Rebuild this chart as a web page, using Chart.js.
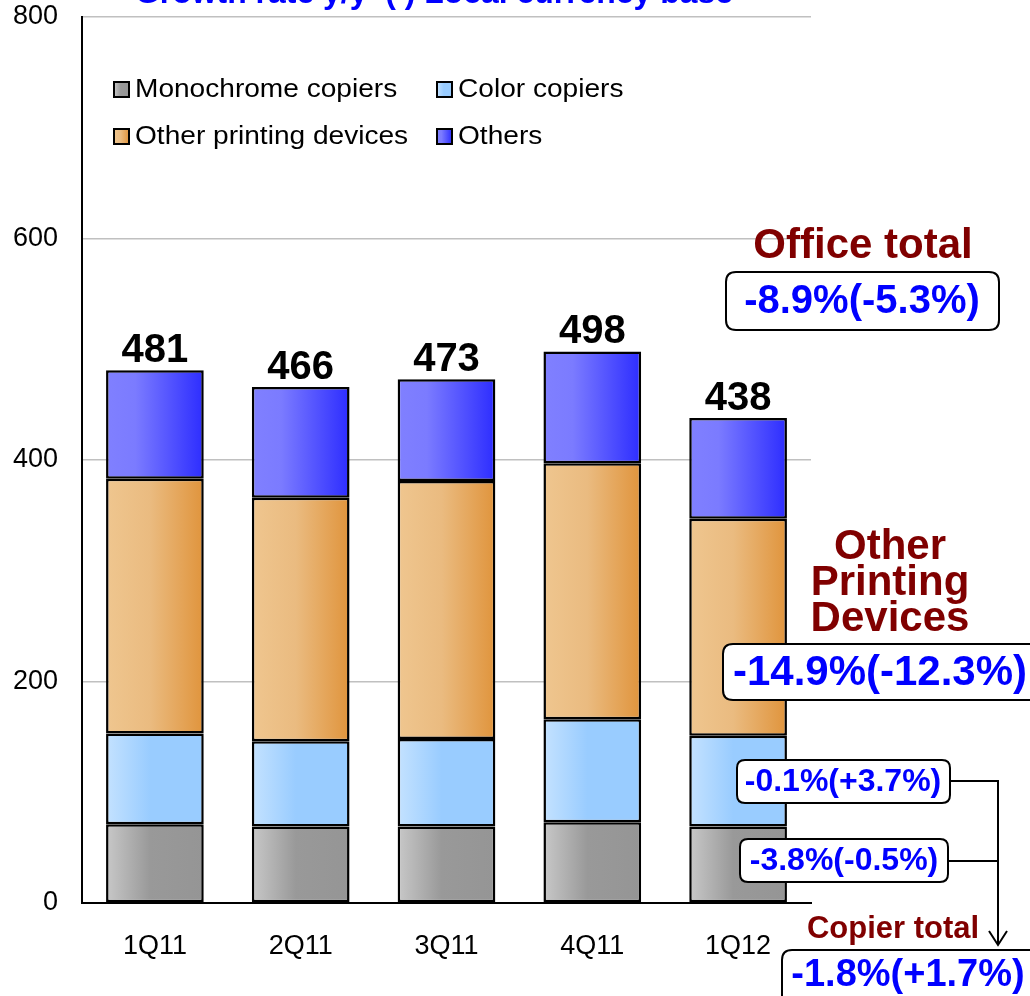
<!DOCTYPE html>
<html>
<head>
<meta charset="utf-8">
<script src="https://cdn.jsdelivr.net/npm/chart.js@4.4.1/dist/chart.umd.min.js"></script>
<style>
  body{margin:0;background:#fff;}
  #wrap{width:1030px;height:996px;}
</style>
</head>
<body>
<div id="wrap"><canvas id="myChart" width="1030" height="996"></canvas></div>
<script>
// quarters and stacked values (billion yen)
const categories = ['1Q11', '2Q11', '3Q11', '4Q11', '1Q12'];
const mono = [71, 69, 69, 73, 69];
const color = [82, 77, 79, 93, 82];
const otherPrinting = [230, 220, 233, 231, 196];
const others = [98, 100, 92, 101, 91];
const totals = [481, 466, 473, 498, 438];
const yTicks = [0, 200, 400, 600, 800];
const seriesNames = ['Monochrome copiers', 'Color copiers', 'Other printing devices', 'Others'];

// gradient stops, left -> right
const stops = [
  [[0, '#c8c8c8'], [0.45, '#999999'], [1, '#959595']],
  [[0, '#c4e2ff'], [0.45, '#99ccff'], [1, '#99ccff']],
  [[0, '#efc68f'], [0.45, '#eabb80'], [1, '#e0943c']],
  [[0, '#8080ff'], [0.3, '#7b7bff'], [1, '#2d2dff']]
];
const FONT = "'Liberation Sans', Arial, sans-serif";

function grad(ctx, x0, x1, s) {
  let g = ctx.createLinearGradient(x0, 0, x1, 0);
  s.forEach(st => g.addColorStop(st[0], st[1]));
  return g;
}

function rbox(ctx, x, y, w, h, r) {
  ctx.beginPath();
  ctx.moveTo(x + r, y);
  ctx.lineTo(x + w - r, y);
  ctx.quadraticCurveTo(x + w, y, x + w, y + r);
  ctx.lineTo(x + w, y + h - r);
  ctx.quadraticCurveTo(x + w, y + h, x + w - r, y + h);
  ctx.lineTo(x + r, y + h);
  ctx.quadraticCurveTo(x, y + h, x, y + h - r);
  ctx.lineTo(x, y + r);
  ctx.quadraticCurveTo(x, y, x + r, y);
  ctx.closePath();
  ctx.fillStyle = '#fff';
  ctx.fill();
  ctx.lineWidth = 2;
  ctx.strokeStyle = '#000';
  ctx.stroke();
}

function txt(ctx, s, x, y, size, col, maxW) {
  ctx.font = 'bold ' + size + 'px ' + FONT;
  ctx.fillStyle = col;
  ctx.textAlign = 'center';
  ctx.textBaseline = 'middle';
  if (maxW) ctx.fillText(s, x, y, maxW); else ctx.fillText(s, x, y);
}

const barGradients = {
  id: 'barGradients',
  beforeDatasetsDraw(chart) {
    const ctx = chart.ctx;
    chart.data.datasets.forEach((ds, di) => {
      chart.getDatasetMeta(di).data.forEach(el => {
        el.options.backgroundColor = grad(ctx, el.x - el.width / 2, el.x + el.width / 2, stops[di]);
      });
    });
  }
};

const extras = {
  id: 'extras',
  afterDraw(chart) {
    const ctx = chart.ctx;
    const xs = chart.scales.x, ys = chart.scales.y;
    ctx.save();

    // title (cut at the top)
    ctx.font = 'bold 32px ' + FONT;
    ctx.fillStyle = '#0000ff';
    ctx.textAlign = 'center';
    ctx.textBaseline = 'alphabetic';
    ctx.fillText('Growth rate y/y  ( ) Local currency base', 434, 3, 598);

    // totals above bars
    totals.forEach((t, i) => {
      ctx.font = 'bold 40px ' + FONT;
      ctx.fillStyle = '#000';
      ctx.textAlign = 'center';
      ctx.textBaseline = 'alphabetic';
      ctx.fillText(String(t), xs.getPixelForValue(i), ys.getPixelForValue(t) - 8);
    });

    // legend
    const pos = [[114, 90], [437, 90], [114, 137], [437, 137]];
    seriesNames.forEach((n, i) => {
      let [x, y] = pos[i];
      ctx.fillStyle = grad(ctx, x, x + 15, stops[i]);
      ctx.fillRect(x, y - 8, 15, 15);
      ctx.lineWidth = 2;
      ctx.strokeStyle = '#000';
      ctx.strokeRect(x, y - 8, 15, 15);
      ctx.save();
      ctx.translate(x + 21, y);
      ctx.scale(1.08, 1);
      ctx.font = '26px ' + FONT;
      ctx.fillStyle = '#000';
      ctx.textAlign = 'left';
      ctx.textBaseline = 'middle';
      ctx.fillText(n, 0, 0);
      ctx.restore();
    });

    // growth annotations
    const red = '#800000', blue = '#0000ff';
    txt(ctx, 'Office total', 863, 246, 42, red);
    rbox(ctx, 726, 272, 273, 58, 10);
    txt(ctx, '-8.9%(-5.3%)', 862, 302, 40, blue);

    txt(ctx, 'Other', 890, 547, 42, red);
    txt(ctx, 'Printing', 890, 583, 42, red);
    txt(ctx, 'Devices', 890, 619, 42, red);
    rbox(ctx, 723, 644, 330, 56, 10);
    txt(ctx, '-14.9%(-12.3%)', 880, 673, 42, blue);

    ctx.lineWidth = 2;
    ctx.strokeStyle = '#000';
    ctx.beginPath();
    ctx.moveTo(950, 781); ctx.lineTo(998, 781); ctx.lineTo(998, 945);
    ctx.moveTo(948, 861); ctx.lineTo(998, 861);
    ctx.moveTo(989, 931); ctx.lineTo(998, 945); ctx.lineTo(1007, 931);
    ctx.stroke();

    rbox(ctx, 737, 760, 213, 43, 8);
    txt(ctx, '-0.1%(+3.7%)', 843, 782, 32, blue);
    rbox(ctx, 740, 839, 208, 43, 8);
    txt(ctx, '-3.8%(-0.5%)', 844, 861, 32, blue);

    txt(ctx, 'Copier total', 893, 929, 31, red);
    rbox(ctx, 782, 950, 270, 56, 10);
    txt(ctx, '-1.8%(+1.7%)', 908, 976, 38, blue);

    ctx.restore();
  }
};

const datasets = [mono, color, otherPrinting, others].map((d, i) => ({
  label: seriesNames[i],
  data: d,
  // scriptable so each bar gets its own options object
  backgroundColor: () => stops[i][1][1],
  borderColor: '#000',
  borderWidth: 2.5,
  borderSkipped: false,
  barPercentage: 0.67,
  categoryPercentage: 1
}));

new Chart(document.getElementById('myChart'), {
  type: 'bar',
  data: { labels: categories, datasets: datasets },
  options: {
    responsive: false,
    animation: false,
    layout: { padding: { top: 17, right: 219, left: 0, bottom: 0 } },
    plugins: { legend: { display: false }, tooltip: { enabled: false } },
    scales: {
      x: {
        stacked: true,
        grid: { display: false },
        border: { display: true, color: '#000', width: 2 },
        ticks: { color: '#000', font: { family: FONT, size: 27 }, padding: 19 },
        afterFit(s) { s.height = 93; s.paddingLeft = 0; s.paddingRight = 0; }
      },
      y: {
        stacked: true,
        min: 0,
        max: 800,
        afterBuildTicks(s) { s.ticks = yTicks.map(v => ({ value: v })); },
        grid: { color: '#c0c0c0', lineWidth: 1.5, drawTicks: false },
        border: { display: true, color: '#000', width: 2 },
        ticks: { color: '#000', font: { family: FONT, size: 27 }, padding: 24 },
        afterFit(s) { s.width = 82; s.paddingTop = 0; s.paddingBottom = 0; }
      }
    }
  },
  plugins: [barGradients, extras]
});
</script>
</body>
</html>
